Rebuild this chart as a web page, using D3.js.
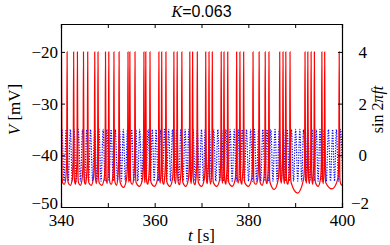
<!DOCTYPE html>
<html>
<head>
<meta charset="utf-8">
<script src="https://cdn.jsdelivr.net/npm/d3@7"></script>
<style>
  body { margin: 0; background: #fff; }
  text { font-family: "Liberation Serif", "DejaVu Serif", serif; fill: #000; }
</style>
</head>
<body>
<div id="chart"></div>
<script>
// spike times of the red trace (s)
var spikeTimes = [340.1, 341.3, 342.7, 343.5, 344.8, 345.7, 347.2, 347.9, 349.5, 350.2,
  351.3, 352.4, 354.3, 354.7, 355.8, 357.7, 358.1, 359.0, 360.9, 361.5,
  362.4, 364.1, 364.8, 365.8, 367.5, 368.1, 369.1, 370.9, 371.6, 372.3,
  374.2, 374.8, 375.6, 377.5, 378.2, 379.0, 381.0, 382.3, 383.6, 384.4,
  386.7, 387.4, 388.0, 388.9, 392.1, 392.7, 393.4, 394.1, 395.7, 396.3, 399.4];

// lowest voltage after each spike (mV)
var troughV = [-45.6, -45.8, -45.6, -45.8, -45.6, -45.8, -45.5, -45.8, -45.5, -45.6,
  -45.8, -46.2, -45.2, -45.6, -46.0, -45.3, -45.6, -46.0, -45.4, -45.6,
  -46.0, -45.5, -45.7, -46.0, -45.5, -45.7, -46.0, -45.5, -45.6, -46.0,
  -45.4, -45.6, -46.0, -45.4, -45.6, -46.0, -45.6, -45.8, -45.5, -46.6,
  -45.4, -45.5, -45.6, -47.3, -45.4, -45.5, -45.6, -46.0, -45.5, -46.5, -45.8];

var spikePeak = -20;

// peak times of the blue sine drive (s)
var sinePeaks = [340.2, 341.1, 342.0, 342.8, 343.7, 344.6, 345.5, 346.3, 347.2, 348.1,
  349.0, 349.8, 350.7, 351.6, 352.5, 353.3, 354.2, 355.1, 356.0, 356.8,
  357.7, 358.6, 359.5, 360.3, 361.2, 362.1, 363.0, 363.8, 364.7, 365.6,
  366.5, 367.3, 368.2, 369.1, 370.0, 370.8, 371.7, 372.6, 373.5, 374.3,
  375.2, 376.1, 377.0, 377.8, 378.7, 379.6, 380.5, 381.3, 382.2, 383.1,
  384.0, 384.8, 385.7, 386.6, 387.5, 388.3, 389.2, 390.1, 391.0, 391.8,
  392.7, 393.6, 394.5, 395.3, 396.2, 397.1, 398.0, 398.8, 399.7];

var xTicks = [340, 350, 360, 370, 380, 390, 400];
var vTicks = [-50, -40, -30, -20];
var sTicks = [-2, 0, 2, 4];

var svgWidth = 390, svgHeight = 245;
var margin = { top: 24, right: 48, bottom: 38, left: 61 };
var width = svgWidth - margin.left - margin.right;
var height = svgHeight - margin.top - margin.bottom;

var svg = d3.select("#chart").append("svg")
  .attr("width", svgWidth)
  .attr("height", svgHeight);

var chartGroup = svg.append("g")
  .attr("transform", `translate(${margin.left}, ${margin.top})`);

var vTop = -14.6;
var x = d3.scaleLinear().domain([340, 400]).range([0, width]);
var y = d3.scaleLinear().domain([-50, vTop]).range([height, 0]);
var yR = d3.scaleLinear().domain([-2, (vTop + 40) / 5]).range([height, 0]);

chartGroup.append("clipPath").attr("id", "clip")
  .append("rect").attr("width", width).attr("height", height);

// sine: alternate peaks (+1) and troughs (-1)
var sinePts = [];
sinePeaks.forEach(function(t, i) {
  sinePts.push([t, 1]);
  var next = sinePeaks[i + 1] !== undefined ? sinePeaks[i + 1] : t + 0.88;
  sinePts.push([(t + next) / 2, -1]);
});
sinePts.unshift([sinePeaks[0] - 0.44, -1]);

// red trace built around the spikes
var trace = [[339.5, -44.8]];
spikeTimes.forEach(function(t, i) {
  var next = i < spikeTimes.length - 1 ? spikeTimes[i + 1] : 400.6;
  var tr = troughV[i];
  trace.push([t - 0.09, -41]);
  trace.push([t, spikePeak]);
  trace.push([t + 0.13, -44.2]);
  if (next - t > 0.7) {
    trace.push([t + 0.25, -45.3]);
    trace.push([(t + next) / 2, tr]);
    trace.push([next - 0.3, -44.6]);
  } else {
    trace.push([(t + next) / 2, tr]);
  }
});

var plot = chartGroup.append("g").attr("clip-path", "url(#clip)");

plot.append("path")
  .datum(sinePts)
  .attr("fill", "none")
  .attr("stroke", "#0000ff")
  .attr("stroke-width", 1.2)
  .attr("stroke-dasharray", "1.2,1.4")
  .attr("d", d3.line().x(d => x(d[0])).y(d => yR(d[1])).curve(d3.curveMonotoneX));

plot.append("path")
  .datum(trace)
  .attr("fill", "none")
  .attr("stroke", "#ff0000")
  .attr("stroke-width", 1.2)
  .attr("d", d3.line().x(d => x(d[0])).y(d => y(d[1])).curve(d3.curveMonotoneX));

function minus(v) { return String(v).replace("-", "\u2212"); }

// axes, ticks pointing inward
var xAxis = d3.axisBottom(x).tickValues(xTicks).tickSize(-4).tickPadding(7)
  .tickFormat(d => d % 20 === 0 ? d : "");
var xAxisTop = d3.axisTop(x).tickValues(xTicks).tickSize(-4).tickFormat("");
var yAxis = d3.axisLeft(y).tickValues(vTicks).tickSize(-4).tickPadding(3).tickFormat(minus);
var yAxisR = d3.axisRight(yR).tickValues(sTicks).tickSize(-4).tickPadding(25).tickFormat(minus);

var gx = chartGroup.append("g").attr("transform", `translate(0, ${height})`).call(xAxis);
var gxt = chartGroup.append("g").call(xAxisTop);
var gy = chartGroup.append("g").call(yAxis);
var gyr = chartGroup.append("g").attr("transform", `translate(${width}, 0)`).call(yAxisR);

[gx, gxt, gy, gyr].forEach(function(g) {
  g.selectAll(".domain").attr("stroke", "#000").attr("stroke-width", 1.2);
  g.selectAll("text").attr("font-family", "Liberation Serif").attr("font-size", 17);
});
gyr.selectAll("text").attr("text-anchor", "end");
// keep the corner labels clear of the x tick labels
gy.selectAll(".tick").filter(d => d === -50).select("text").attr("dy", "0.1em");
gyr.selectAll(".tick").filter(d => d === -2).select("text").attr("dy", "0.1em").attr("x", 27);

// axis labels
svg.append("text")
  .attr("transform", `translate(20, ${margin.top + height / 2 - 6}) rotate(-90)`)
  .attr("text-anchor", "middle")
  .attr("font-size", 17)
  .html('<tspan font-style="italic">V</tspan> [mV]');

svg.append("text")
  .attr("transform", `translate(383, ${margin.top + height / 2 - 6}) rotate(-90)`)
  .attr("text-anchor", "middle")
  .attr("font-size", 16)
  .html('sin 2<tspan font-style="italic">πft</tspan>');

svg.append("text")
  .attr("x", margin.left + width / 2)
  .attr("y", 241)
  .attr("text-anchor", "middle")
  .attr("font-size", 17)
  .html('<tspan font-style="italic">t</tspan> [s]');

// title
svg.append("text")
  .attr("x", margin.left + width / 2)
  .attr("y", 17)
  .attr("text-anchor", "middle")
  .attr("font-size", 16)
  .html('<tspan font-style="italic" font-family="Liberation Serif">K</tspan><tspan font-family="Liberation Sans">=0.063</tspan>');
</script>
</body>
</html>
